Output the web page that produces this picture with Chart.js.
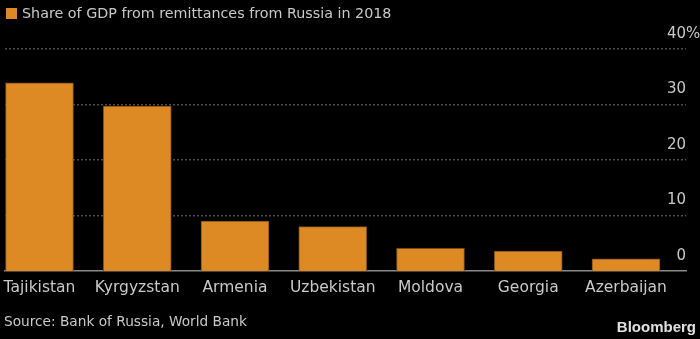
<!DOCTYPE html>
<html>
<head>
<meta charset="utf-8">
<script src="https://cdn.jsdelivr.net/npm/chart.js@4.4.0/dist/chart.umd.min.js"></script>
<style>
  html, body { margin: 0; padding: 0; background: #000; }
  #wrap { width: 700px; height: 339px; }
</style>
</head>
<body>
<div id="wrap"><canvas id="barchart" width="700" height="339"></canvas></div>
<script>
var countries = ['Tajikistan', 'Kyrgyzstan', 'Armenia', 'Uzbekistan', 'Moldova', 'Georgia', 'Azerbaijan'];
var remitShare = [33.9, 29.7, 9.0, 8.0, 4.1, 3.6, 2.2];
var yTicks = [0, 10, 20, 30, 40];
var seriesName = 'Share of GDP from remittances from Russia in 2018';
var sourceNote = 'Source: Bank of Russia, World Bank';

var FONT = '"DejaVu Sans", sans-serif';
var TXT = '#c9c9c9';
var ORANGE = '#dd8a25';

// legend, y labels above the gridlines, source and logo
var decor = {
  id: 'decor',
  afterDraw: function(chart) {
    var ctx = chart.ctx;
    var y = chart.scales.y;
    var area = chart.chartArea;
    ctx.save();
    ctx.font = '15px ' + FONT;
    ctx.fillStyle = TXT;
    ctx.textBaseline = 'middle';
    ctx.textAlign = 'right';
    yTicks.forEach(function(t) {
      var py = y.getPixelForValue(t) - 15;
      ctx.fillText(String(t), area.right, py);
      if (t === yTicks[yTicks.length - 1]) {
        ctx.textAlign = 'left';
        ctx.fillText('%', area.right, py);
        ctx.textAlign = 'right';
      }
    });

    ctx.fillStyle = ORANGE;
    ctx.fillRect(6, 8, 11, 11);
    ctx.fillStyle = TXT;
    ctx.textAlign = 'left';
    ctx.font = '14.3px ' + FONT;
    ctx.fillText(seriesName, 22, 14);

    ctx.font = '13.7px ' + FONT;
    ctx.fillText(sourceNote, 4, 322);

    ctx.font = 'bold 15px "Liberation Sans", Arial, sans-serif';
    ctx.fillStyle = '#e0e0e0';
    ctx.textAlign = 'right';
    ctx.fillText('Bloomberg', 696, 328);
    ctx.restore();
  }
};

var ctx = document.getElementById('barchart');
var barGraph = new Chart(ctx, {
  type: 'bar',
  data: {
    datasets: [{
      label: seriesName,
      data: remitShare.map(function(v, i) { return { x: i, y: v }; }),
      backgroundColor: ORANGE,
      borderColor: '#7a4c14',
      borderWidth: 1,
      barThickness: 68
    }]
  },
  options: {
    responsive: false,
    animation: false,
    layout: { padding: { left: 5, right: 14, top: 49, bottom: 28 } },
    plugins: { legend: { display: false }, tooltip: { enabled: false } },
    scales: {
      x: {
        type: 'linear',
        offset: false,
        min: -0.353,
        max: 6.614,
        grid: { display: false },
        border: { display: true, color: '#8a8a8a', width: 1.5 },
        afterBuildTicks: function(s) {
          s.ticks = countries.map(function(c, i) { return { value: i }; });
        },
        afterFit: function(s) { s.height = 40; },
        ticks: {
          autoSkip: false,
          maxRotation: 0,
          padding: 0,
          color: TXT,
          font: { family: FONT, size: 15.5 },
          callback: function(v) { return countries[v]; }
        }
      },
      y: {
        min: 0,
        max: 40,
        afterBuildTicks: function(s) {
          s.ticks = yTicks.filter(function(t) { return t > 0; }).map(function(t) { return { value: t }; });
        },
        afterFit: function(s) { s.width = 0; },
        ticks: { display: false },
        border: { display: false, dash: [2, 2] },
        grid: { color: '#4c4c4c', lineWidth: 1.5, drawTicks: false }
      }
    }
  },
  plugins: [decor]
});
</script>
</body>
</html>
